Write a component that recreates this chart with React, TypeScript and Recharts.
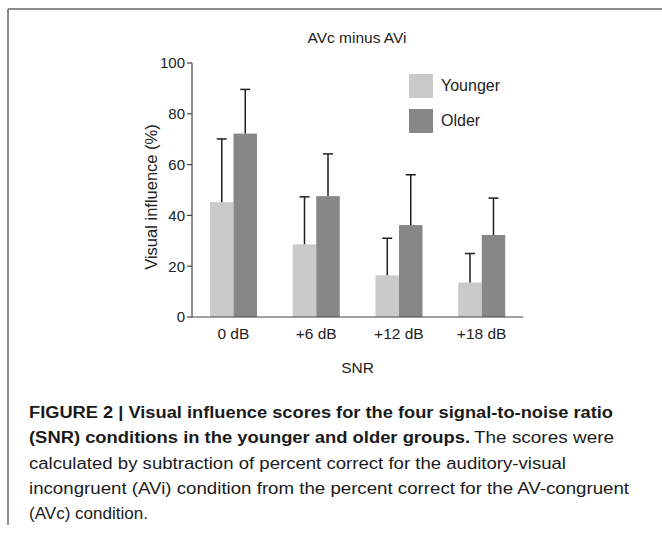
import { Bar, BarChart, Label, XAxis, YAxis } from "recharts";

const snrLevels = ["0 dB", "+6 dB", "+12 dB", "+18 dB"];
const youngerMeans = [45.2, 28.6, 16.4, 13.6];
const youngerErrors = [24.9, 18.7, 14.6, 11.4];
const olderMeans = [72.2, 47.6, 36.2, 32.3];
const olderErrors = [17.4, 16.6, 19.8, 14.5];
const yTicks = [0, 20, 40, 60, 80, 100];

const series = [
  { key: "younger", errKey: "youngerErr", label: "Younger", color: "#c9cac9" },
  { key: "older", errKey: "olderErr", label: "Older", color: "#878787" }
] as const;

const chartData = snrLevels.map((snr, i) => ({
  snr,
  younger: youngerMeans[i],
  youngerErr: youngerErrors[i],
  older: olderMeans[i],
  olderErr: olderErrors[i]
}));

const captionBold1 = "FIGURE 2 | Visual influence scores for the four signal-to-noise ratio";
const captionBold2 = "(SNR) conditions in the younger and older groups.";
const captionRest2 = "The scores were";
const captionLines = [
  "calculated by subtraction of percent correct for the auditory-visual",
  "incongruent (AVi) condition from the percent correct for the AV-congruent",
  "(AVc) condition."
];
const captionLineLengths = [537, 600, 119];

const sansFont = "'Liberation Sans', Arial, sans-serif";
const captionFont = "'Liberation Sans Narrow', 'Liberation Sans', Arial, sans-serif";

// bar + one-sided (upward) error whisker, whisker length taken from the bar's own pixel scale
function makeErrorBarShape(valueKey: string, errKey: string) {
  return function ErrorBarShape(props: any) {
    const { x, y, width, height, fill, payload } = props;
    const value = payload[valueKey];
    const err = payload[errKey];
    const pxPerUnit = value ? height / value : 0;
    const top = y - err * pxPerUnit;
    const cx = x + width / 2;
    return (
      <g>
        <rect x={x} y={y} width={width} height={height} fill={fill} />
        <line x1={cx} y1={y} x2={cx} y2={top} stroke="#1e1e1e" strokeWidth={1.5} />
        <line x1={cx - 5} y1={top} x2={cx + 5} y2={top} stroke="#1e1e1e" strokeWidth={1.5} />
      </g>
    );
  };
}

export default function App() {
  return (
    <div
      style={{
        position: "absolute",
        left: 0,
        top: 0,
        width: 662,
        height: 535,
        background: "#fff",
        fontFamily: sansFont,
        overflow: "hidden"
      }}
    >
      <div style={{ position: "absolute", left: 0, top: 0 }}>
        <BarChart
          width={662}
          height={400}
          data={chartData}
          margin={{ top: 63, right: 139, left: 0, bottom: 23 }}
          barGap={0}
          barSize={23.5}
        >
          <XAxis
            dataKey="snr"
            height={60}
            interval={0}
            tickLine={false}
            tickMargin={5}
            axisLine={{ stroke: "#444", strokeWidth: 1.2 }}
            tick={{ fill: "#222", fontSize: 15.5 }}
          >
            <Label
              content={(p: any) => (
                <text
                  x={p.viewBox.x + p.viewBox.width / 2}
                  y={p.viewBox.y + 56}
                  textAnchor="middle"
                  fill="#222"
                  fontSize={15.5}
                >
                  SNR
                </text>
              )}
            />
          </XAxis>
          <YAxis
            domain={[0, 100]}
            ticks={yTicks}
            interval={0}
            width={192}
            tickSize={5}
            axisLine={{ stroke: "#444", strokeWidth: 1.2 }}
            tickLine={{ stroke: "#444", strokeWidth: 1.2 }}
            tick={{ fill: "#222", fontSize: 15 }}
          >
            <Label
              content={(p: any) => {
                const lx = p.viewBox.x + 157;
                const ly = p.viewBox.y + p.viewBox.height / 2 + 7;
                return (
                  <text
                    x={lx}
                    y={ly}
                    textAnchor="middle"
                    fill="#222"
                    fontSize={16.5}
                    transform={`rotate(-90, ${lx}, ${ly})`}
                  >
                    Visual influence (%)
                  </text>
                );
              }}
            />
          </YAxis>
          {series.map((s) => (
            <Bar
              key={s.key}
              dataKey={s.key}
              name={s.label}
              fill={s.color}
              isAnimationActive={false}
              shape={makeErrorBarShape(s.key, s.errKey)}
            />
          ))}
        </BarChart>
      </div>

      <div style={{ position: "absolute", left: 409, top: 74 }}>
        {series.map((s, i) => (
          <div
            key={s.key}
            style={{ display: "flex", alignItems: "center", height: 24, marginTop: i === 0 ? 0 : 11 }}
          >
            <span style={{ display: "inline-block", width: 24, height: 24, background: s.color }} />
            <span style={{ marginLeft: 8, fontSize: 16, color: "#222", whiteSpace: "nowrap" }}>{s.label}</span>
          </div>
        ))}
      </div>

      <svg
        width={662}
        height={535}
        style={{ position: "absolute", left: 0, top: 0, pointerEvents: "none" }}
      >
        <line x1={8} y1={9} x2={662} y2={9} stroke="#666" strokeWidth={1.5} />
        <line x1={8} y1={9} x2={8} y2={525} stroke="#666" strokeWidth={1.5} />
        <text x={357} y={43} textAnchor="middle" fill="#222" fontSize={15.5} fontFamily={sansFont}>
          AVc minus AVi
        </text>
        <g fontFamily={captionFont} fontSize={16} fill="#1a1a1a">
          <text x={29} y={418} fontWeight="bold" textLength={584} lengthAdjust="spacingAndGlyphs">
            {captionBold1}
          </text>
          <text x={29} y={443} fontWeight="bold" textLength={441} lengthAdjust="spacingAndGlyphs">
            {captionBold2}
          </text>
          <text x={474} y={443} textLength={140} lengthAdjust="spacingAndGlyphs">
            {captionRest2}
          </text>
          {captionLines.map((line, i) => (
            <text
              key={i}
              x={29}
              y={469 + i * 25}
              textLength={captionLineLengths[i]}
              lengthAdjust="spacingAndGlyphs"
            >
              {line}
            </text>
          ))}
        </g>
      </svg>
    </div>
  );
}
